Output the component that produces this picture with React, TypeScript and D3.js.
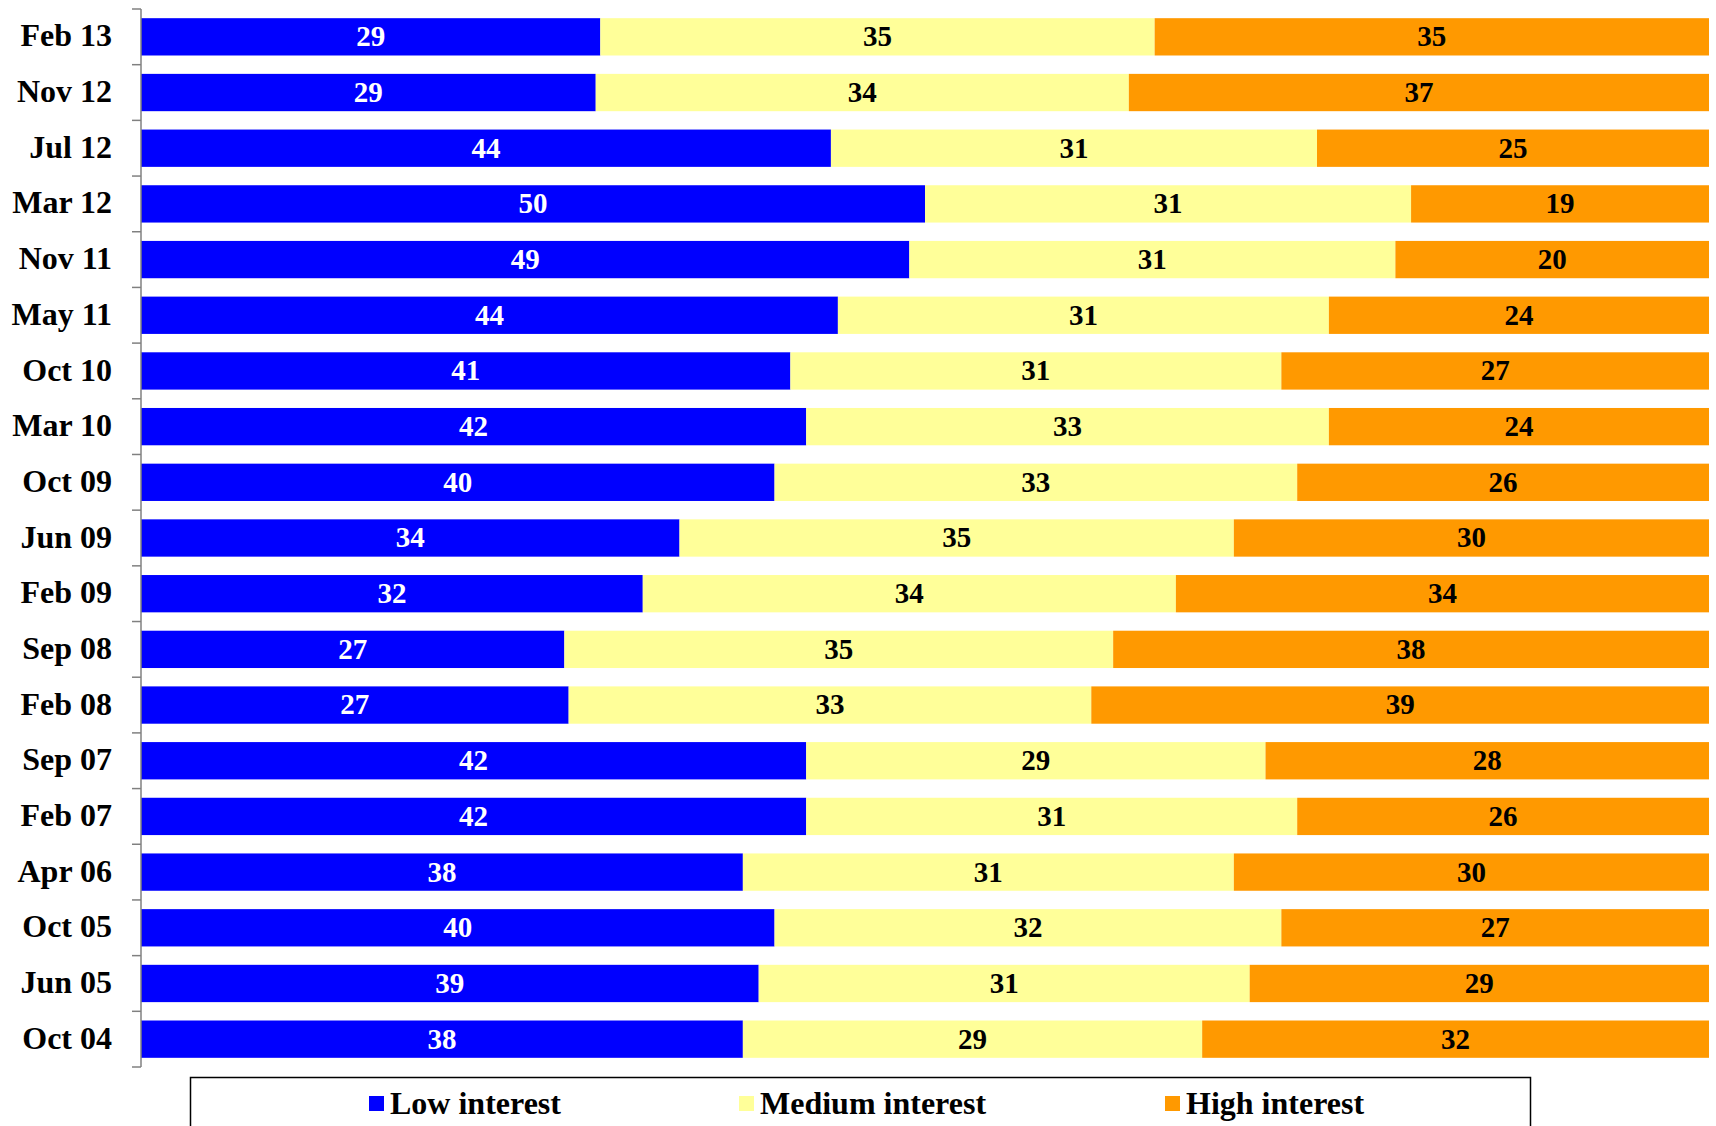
import React from "react";
import * as d3 from "d3";

const categories = ["Feb 13","Nov 12","Jul 12","Mar 12","Nov 11","May 11","Oct 10","Mar 10","Oct 09","Jun 09","Feb 09","Sep 08","Feb 08","Sep 07","Feb 07","Apr 06","Oct 05","Jun 05","Oct 04"];
const lowInterest = [29,29,44,50,49,44,41,42,40,34,32,27,27,42,42,38,40,39,38];
const mediumInterest = [35,34,31,31,31,31,31,33,33,35,34,35,33,29,31,31,32,31,29];
const highInterest = [35,37,25,19,20,24,27,24,26,30,34,38,39,28,26,30,27,29,32];
const seriesNames = ["Low interest","Medium interest","High interest"];
const seriesColors = ["#0000FF","#FFFF99","#FF9900"];
const labelColors = ["#FFFFFF","#000000","#000000"];

const W = 1716, H = 1126;
const left = 141, right = 1709, top = 9, bottom = 1067;
const font = "'Liberation Serif', 'Times New Roman', serif";

export default function App() {
  const series = [lowInterest, mediumInterest, highInterest];
  const y = d3.scaleBand().domain(categories).range([top, bottom]).paddingInner(0.33).paddingOuter(0.165);
  const x = d3.scaleLinear().domain([0, 1]).range([left, right]);
  const step = y.step();

  const rows = categories.map((c, i) => {
    const vals = series.map(s => s[i]);
    const total = d3.sum(vals);
    let acc = 0;
    return vals.map((v, k) => {
      const x0 = acc / total; acc += v; const x1 = acc / total;
      return { c, k, v, x0, x1 };
    });
  });

  const legendX = [369, 739, 1165];

  return (
    <svg width={W} height={H} style={{ position: "absolute", left: 0, top: 0, background: "#fff" }} fontFamily={font}>
      {rows.map((segs, i) => segs.map(s => {
        const cx = (x(s.x0) + x(s.x1)) / 2;
        const cy = y(s.c)! + y.bandwidth() / 2 - 1;
        return (
          <g key={`${i}-${s.k}`}>
            <rect x={x(s.x0)} y={y(s.c)!} width={x(s.x1) - x(s.x0)} height={y.bandwidth()} fill={seriesColors[s.k]} />
            <text x={cx} y={cy} dy="0.36em" textAnchor="middle"
              fontSize={29} fontWeight="bold" fill={labelColors[s.k]}>{s.v}</text>
          </g>
        );
      }))}
      <line x1={left} x2={left} y1={top} y2={bottom} stroke="#808080" strokeWidth={1.5} />
      {d3.range(categories.length + 1).map(i => (
        <line key={i} x1={132} x2={left} y1={top + i * step} y2={top + i * step} stroke="#808080" strokeWidth={1.5} />
      ))}
      {categories.map(c => (
        <text key={c} x={112} y={y(c)! + y.bandwidth() / 2 - 1} dy="0.33em" textAnchor="end" fontSize={32} fontWeight="bold" fill="#000">{c}</text>
      ))}
      <rect x={190.5} y={1077.5} width={1340} height={60} fill="none" stroke="#000" strokeWidth={1.5} />
      {seriesNames.map((n, k) => (
        <g key={n}>
          <rect x={legendX[k]} y={1096} width={15} height={15} fill={seriesColors[k]} />
          <text x={legendX[k] + 21} y={1103} dy="0.35em" fontSize={32} fontWeight="bold" fill="#000">{n}</text>
        </g>
      ))}
    </svg>
  );
}
